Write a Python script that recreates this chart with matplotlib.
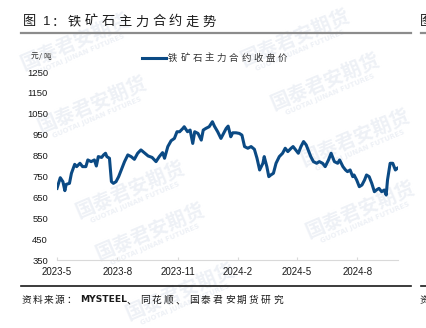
import math

import matplotlib
matplotlib.use("Agg")
import matplotlib.dates as mdates
import matplotlib.pyplot as plt
import pandas as pd

W, H = 426, 328
CJK = ["Noto Sans CJK SC", "DejaVu Sans"]
NAVY = "#0b4a84"
WM = "#eef1f6"

# DCE iron ore main contract, closing price (yuan/ton)
dates = [
    "2023-05-01", "2023-05-06", "2023-05-10", "2023-05-13", "2023-05-15",
    "2023-05-20", "2023-05-23", "2023-05-28", "2023-05-31", "2023-06-05",
    "2023-06-09", "2023-06-14", "2023-06-17", "2023-06-22", "2023-06-27",
    "2023-06-30", "2023-07-03", "2023-07-08", "2023-07-11", "2023-07-14",
    "2023-07-16", "2023-07-20", "2023-07-23", "2023-07-26", "2023-07-30",
    "2023-08-03", "2023-08-07", "2023-08-12", "2023-08-17", "2023-08-22",
    "2023-08-27", "2023-09-01", "2023-09-06", "2023-09-12", "2023-09-17",
    "2023-09-23", "2023-09-29", "2023-10-04", "2023-10-09", "2023-10-12",
    "2023-10-17", "2023-10-22", "2023-10-27", "2023-10-31", "2023-11-04",
    "2023-11-09", "2023-11-11", "2023-11-16", "2023-11-20", "2023-11-24",
    "2023-11-27", "2023-12-02", "2023-12-07", "2023-12-10", "2023-12-14",
    "2023-12-19", "2023-12-24", "2023-12-27", "2024-01-01", "2024-01-06",
    "2024-01-10", "2024-01-14", "2024-01-17", "2024-01-21", "2024-01-24",
    "2024-01-29", "2024-02-03", "2024-02-07", "2024-02-11", "2024-02-16",
    "2024-02-21", "2024-02-26", "2024-03-01", "2024-03-05", "2024-03-10",
    "2024-03-12", "2024-03-16", "2024-03-19", "2024-03-22", "2024-03-26",
    "2024-03-30", "2024-04-04", "2024-04-09", "2024-04-13", "2024-04-17",
    "2024-04-22", "2024-04-25", "2024-04-29", "2024-05-03", "2024-05-07",
    "2024-05-11", "2024-05-15", "2024-05-19", "2024-05-22", "2024-05-26",
    "2024-05-31", "2024-06-04", "2024-06-09", "2024-06-13", "2024-06-18",
    "2024-06-22", "2024-06-27", "2024-07-02", "2024-07-05", "2024-07-10",
    "2024-07-14", "2024-07-17", "2024-07-21", "2024-07-25", "2024-07-27",
    "2024-07-31", "2024-08-04", "2024-08-08", "2024-08-12", "2024-08-15",
    "2024-08-19", "2024-08-23", "2024-08-27", "2024-08-30", "2024-09-03",
    "2024-09-07", "2024-09-11", "2024-09-14", "2024-09-16", "2024-09-20",
    "2024-09-24", "2024-09-28", "2024-10-01",
]
close = [
    693, 744, 725, 682, 712,
    717, 765, 808, 797, 813,
    797, 797, 829, 821, 829,
    800, 845, 841, 853, 861,
    845, 837, 725, 717, 725,
    749, 781, 821, 853, 845,
    832, 861, 877, 861, 848,
    841, 821, 845, 864, 837,
    893, 921, 932, 964, 964,
    980, 988, 964, 972, 908,
    964, 956, 924, 972, 980,
    988, 1012, 991, 964, 932,
    956, 980, 991, 940, 959,
    959, 956, 948, 893, 885,
    893, 880, 837, 781, 813,
    845, 797, 749, 757, 765,
    813, 845, 861, 885, 869,
    885, 893, 877, 861, 893,
    917, 901, 869, 845, 821,
    813, 821, 813, 797, 829,
    861, 821, 813, 829, 797,
    781, 773, 781, 749, 757,
    733, 701, 709, 733, 757,
    749, 717, 677, 685, 693,
    677, 685, 661, 733, 813,
    813, 781, 789,
]

y_ticks = [350, 450, 550, 650, 750, 850, 950, 1050, 1150, 1250]
title = "铁矿石主力合约走势"
legend_label = "铁矿石主力合约收盘价"
unit = "元/吨"


def fx(px):
    return px / W


def fy(py):
    return 1 - py / H


def spaced(fig, x, y, s, step, size, color="#1a1a1a", **kw):
    """Place characters one by one so CJK text gets wide tracking."""
    for ch in s:
        fig.text(fx(x), fy(y), ch, fontsize=size, color=color, family=CJK,
                 ha="left", va="center", zorder=3, **kw)
        x += step if ord(ch) > 127 else step * 0.6


def watermark(fig, cx, cy, angle=23):
    a = math.radians(angle)
    fig.text(fx(cx), fy(cy), "国泰君安期货", fontsize=14, color=WM,
             family=CJK, weight="bold", rotation=angle, rotation_mode="anchor",
             ha="center", va="center", zorder=-1)
    # subtitle sits just below the Chinese name, perpendicular offset
    ox, oy = 13 * math.sin(a), 13 * math.cos(a)
    fig.text(fx(cx + ox), fy(cy + oy), "GUOTAI JUNAN FUTURES", fontsize=5,
             color=WM, family="DejaVu Sans", weight="bold",
             rotation=angle, rotation_mode="anchor", ha="center", va="center",
             zorder=-1)


fig = plt.figure(figsize=(W / 100, H / 100), dpi=100)

for cx, cy in [(75, 42), (295, 38), (92, 105), (325, 82), (355, 138),
               (130, 190), (360, 210), (150, 232), (180, 292)]:
    watermark(fig, cx, cy)

ax = fig.add_axes([fx(57), fy(260), fx(398) - fx(57), fy(72) - fy(260)])
ax.set_zorder(2)
ax.patch.set_alpha(0)

x = pd.to_datetime(dates)
ax.plot(x, close, color=NAVY, lw=2.2, solid_joinstyle="round")

ax.set_ylim(350, 1250)
ax.set_yticks(y_ticks)
ax.set_xlim(pd.Timestamp("2023-05-01"), pd.Timestamp("2024-10-02"))
ax.xaxis.set_major_locator(mdates.MonthLocator(bymonth=[2, 5, 8, 11]))
ax.xaxis.set_major_formatter(
    plt.FuncFormatter(lambda v, _: f"{mdates.num2date(v).year}-{mdates.num2date(v).month}"))

for side in ("left", "right", "top"):
    ax.spines[side].set_visible(False)
ax.spines["bottom"].set_color("#d9d9d9")
ax.spines["bottom"].set_linewidth(0.8)
ax.tick_params(axis="x", direction="in", length=2.5, color="#d9d9d9",
               pad=5, labelsize=7, labelcolor="#1a1a1a")
ax.tick_params(axis="y", length=0, pad=6.5, labelsize=6.8, labelcolor="#1a1a1a")
for lab in ax.get_xticklabels() + ax.get_yticklabels():
    lab.set_family(["Liberation Sans", "DejaVu Sans"])

# title, rules and source line
spaced(fig, 23, 22, "图", 17, 9.5)
fig.text(fx(43), fy(22), "1", fontsize=9.5, color="#1a1a1a", va="center",
         family=["Liberation Sans"])
spaced(fig, 52, 22, "：", 17, 9.5)
spaced(fig, 68, 22, title, 16.8, 9.5)
fig.add_artist(plt.Line2D([fx(21), fx(411)], [fy(33), fy(33)],
                          color="#8c8c8c", lw=1.6))
fig.add_artist(plt.Line2D([fx(21), fx(411)], [fy(286), fy(286)],
                          color="#1a1a1a", lw=1.2))

# neighbouring panel peeking in at the right edge
spaced(fig, 420, 22, "图", 17, 9.5)
fig.add_artist(plt.Line2D([fx(421), fx(430)], [fy(33), fy(33)],
                          color="#8c8c8c", lw=1.6))
fig.add_artist(plt.Line2D([fx(421), fx(430)], [fy(286), fy(286)],
                          color="#1a1a1a", lw=1.2))
spaced(fig, 420, 300, "资", 11, 7)

# unit and legend
spaced(fig, 31, 57, unit, 8, 5.5, color="#333333")
fig.add_artist(plt.Line2D([fx(142), fx(166)], [fy(58), fy(58)],
                          color=NAVY, lw=2.2))
spaced(fig, 168, 58, legend_label, 12.2, 6.8, color="#333333")

spaced(fig, 22, 300, "资料来源：", 11, 7)
fig.text(fx(80), fy(300), "MYSTEEL", fontsize=6.6, weight="bold",
         color="#1a1a1a", va="center", family="DejaVu Sans")
spaced(fig, 127, 300, "、", 11, 7)
spaced(fig, 140, 300, "同花顺", 12, 7)
spaced(fig, 176, 300, "、", 11, 7)
spaced(fig, 189, 300, "国泰君安期货研究", 12, 7)

fig.savefig("out.png", dpi=100)
